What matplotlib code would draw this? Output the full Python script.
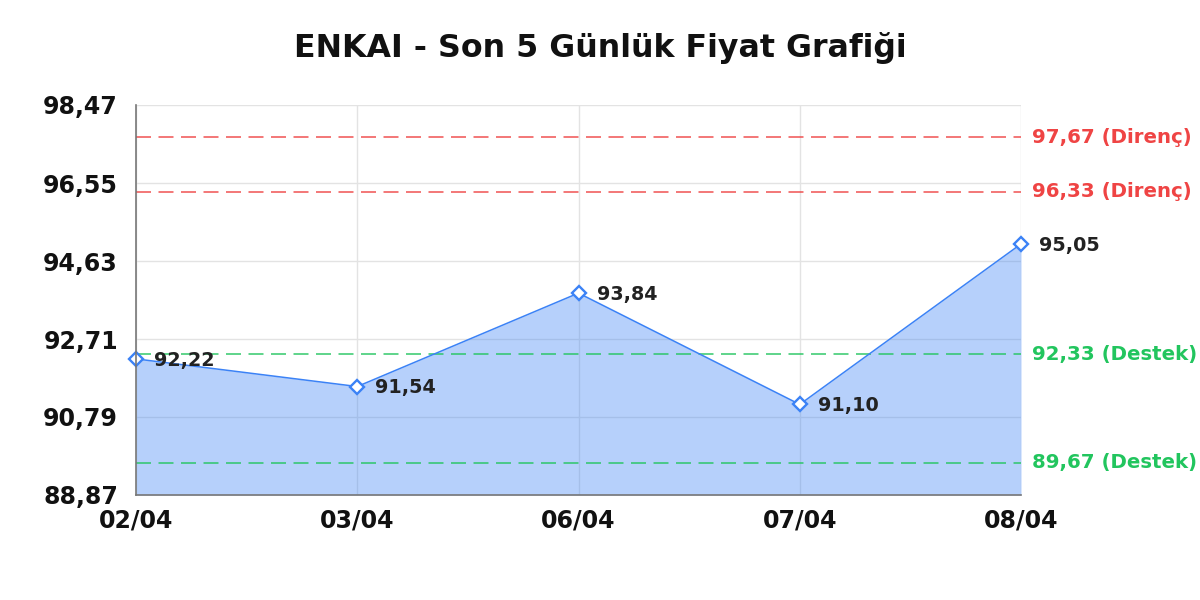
import matplotlib
matplotlib.use("Agg")
import matplotlib.pyplot as plt
from matplotlib.ticker import FuncFormatter

plt.rcParams["font.family"] = ["DejaVu Sans"]

# --- data ---
dates = ["02/04", "03/04", "06/04", "07/04", "08/04"]
prices = [92.22, 91.54, 93.84, 91.10, 95.05]
y_ticks = [88.87, 90.79, 92.71, 94.63, 96.55, 98.47]
resistance = [97.67, 96.33]
support = [92.33, 89.67]

blue = "#3b82f6"
red = "#ef4444"
green = "#22c55e"


def tr(v, digits=2):
    return f"{v:.{digits}f}".replace(".", ",")


fig = plt.figure(figsize=(12, 6), dpi=100)
ax = fig.add_axes([136 / 1200, 1 - 495 / 600, (1021 - 136) / 1200, 390 / 600])

xs = list(range(len(dates)))
ax.fill_between(xs, prices, y_ticks[0], color=blue, alpha=0.37, linewidth=0, zorder=2)
ax.plot(xs, prices, color=blue, linewidth=1.1, zorder=4,
        marker="D", markersize=7.5, markerfacecolor="white",
        markeredgecolor=blue, markeredgewidth=1.7, clip_on=False)

for x, p in zip(xs, prices):
    ax.annotate(tr(p), (x, p), xytext=(13, -1), textcoords="offset points",
                ha="left", va="center", fontsize=13.8, fontweight="bold",
                color="#222222", zorder=5)

# destek / direnc cizgileri
for lvl in resistance:
    ax.axhline(lvl, color=red, alpha=0.85, linewidth=1.2, dashes=(9, 4.5), zorder=3)
    ax.annotate(f"{tr(lvl)} (Direnç)", (1, lvl), xycoords=("axes fraction", "data"),
                xytext=(8, 0), textcoords="offset points", ha="left", va="center",
                fontsize=14.2, fontweight="bold", color=red, annotation_clip=False)
for lvl in support:
    ax.axhline(lvl, color=green, alpha=0.85, linewidth=1.2, dashes=(9, 4.5), zorder=3)
    ax.annotate(f"{tr(lvl)} (Destek)", (1, lvl), xycoords=("axes fraction", "data"),
                xytext=(8, 0), textcoords="offset points", ha="left", va="center",
                fontsize=14.2, fontweight="bold", color=green, annotation_clip=False)

ax.set_xlim(0, len(dates) - 1)
ax.set_ylim(y_ticks[0], y_ticks[-1])
ax.set_xticks(xs)
ax.set_xticklabels(dates)
ax.set_yticks(y_ticks)
ax.yaxis.set_major_formatter(FuncFormatter(lambda v, pos: tr(v)))

for lab in ax.get_xticklabels() + ax.get_yticklabels():
    lab.set_fontweight("bold")
ax.tick_params(axis="y", length=0, pad=13, labelsize=17, colors="#111111")
ax.tick_params(axis="x", length=0, pad=10, labelsize=17, colors="#111111")

ax.grid(True, color="#e3e3e3", linewidth=1, zorder=1)
ax.set_axisbelow(True)
for side in ["top", "right"]:
    ax.spines[side].set_visible(False)
for side in ["left", "bottom"]:
    ax.spines[side].set_color("#777777")
    ax.spines[side].set_linewidth(1.2)
    ax.spines[side].set_zorder(6)

fig.text(0.5, 1 - 48 / 600, "ENKAI - Son 5 Günlük Fiyat Grafiği", ha="center",
         va="center", fontsize=22.8, fontweight="bold", color="#111111")

fig.savefig("out.png", dpi=100)
